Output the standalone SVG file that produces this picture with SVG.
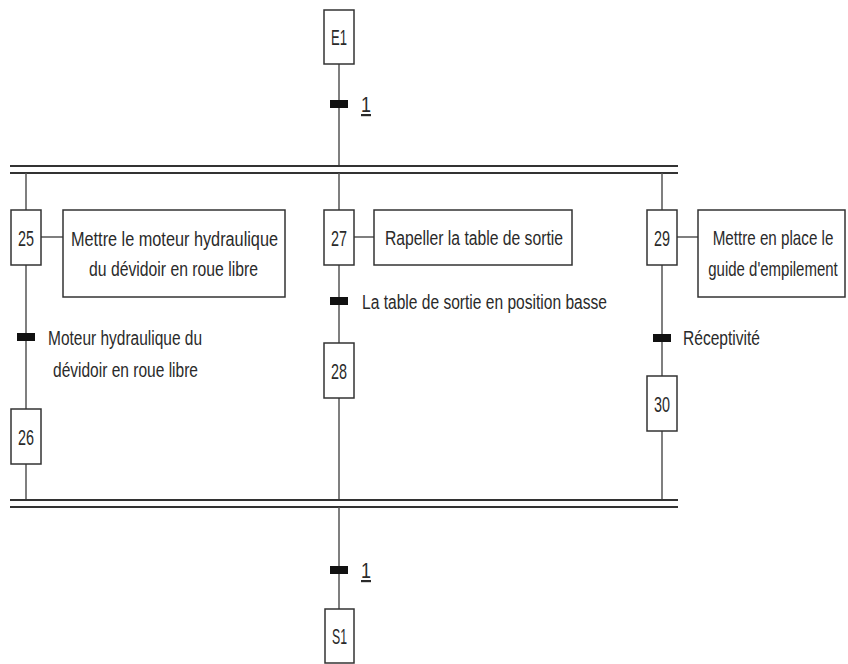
<svg xmlns="http://www.w3.org/2000/svg" width="848" height="664" viewBox="0 0 848 664">
<style>
.ln{stroke:#555;stroke-width:1.5;fill:none}
.bar{stroke:#333;stroke-width:2;fill:none}
.box{fill:#fff;stroke:#333;stroke-width:1.5}
.tr{fill:#111}
.t{font-family:"Liberation Sans",Arial,sans-serif;font-size:20px;fill:#2a2a2a}
.n{font-family:"Liberation Sans",Arial,sans-serif;font-size:22px;fill:#2a2a2a}
</style>
<rect width="848" height="664" fill="#fff"/>
<g id="connectors">
<line class="ln" x1="339" y1="64" x2="339" y2="167"/>
<line class="bar" x1="10" y1="166" x2="678" y2="166"/>
<line class="bar" x1="10" y1="173" x2="678" y2="173"/>
<line class="ln" x1="26" y1="173" x2="26" y2="210"/>
<line class="ln" x1="339" y1="173" x2="339" y2="210"/>
<line class="ln" x1="662" y1="173" x2="662" y2="210"/>
<line class="ln" x1="26" y1="265" x2="26" y2="409"/>
<line class="ln" x1="26" y1="464" x2="26" y2="500"/>
<line class="ln" x1="339" y1="265" x2="339" y2="343"/>
<line class="ln" x1="339" y1="398" x2="339" y2="500"/>
<line class="ln" x1="662" y1="265" x2="662" y2="376"/>
<line class="ln" x1="662" y1="431" x2="662" y2="500"/>
<line class="bar" x1="10" y1="500" x2="678" y2="500"/>
<line class="bar" x1="10" y1="507" x2="678" y2="507"/>
<line class="ln" x1="339" y1="507" x2="339" y2="609"/>
<line class="ln" x1="41" y1="237" x2="63" y2="237"/>
<line class="ln" x1="354" y1="237" x2="374" y2="237"/>
<line class="ln" x1="677" y1="237" x2="698" y2="237"/>
</g>
<g id="E1"><rect class="box" x="324" y="10" width="30" height="54"/><text class="n" x="331" y="45" textLength="16" lengthAdjust="spacingAndGlyphs">E1</text></g>
<g id="T1"><rect class="tr" x="330" y="100" width="18" height="8"/><text class="n" x="361" y="112" textLength="10" lengthAdjust="spacingAndGlyphs" text-decoration="underline">1</text></g>
<g id="S25"><rect class="box" x="11" y="210" width="30" height="55"/><text class="n" x="18" y="246" textLength="16" lengthAdjust="spacingAndGlyphs">25</text></g>
<g id="A25"><rect class="box" x="63" y="210" width="222" height="87"/><text class="t" x="71" y="246" textLength="207" lengthAdjust="spacingAndGlyphs">Mettre le moteur hydraulique</text><text class="t" x="89" y="276" textLength="169" lengthAdjust="spacingAndGlyphs">du dévidoir en roue libre</text></g>
<g id="T25"><rect class="tr" x="17" y="333" width="18" height="8"/><text class="t" x="48" y="345" textLength="154" lengthAdjust="spacingAndGlyphs">Moteur hydraulique du</text><text class="t" x="53" y="377" textLength="145" lengthAdjust="spacingAndGlyphs">dévidoir en roue libre</text></g>
<g id="S26"><rect class="box" x="11" y="409" width="30" height="55"/><text class="n" x="18" y="445" textLength="16" lengthAdjust="spacingAndGlyphs">26</text></g>
<g id="S27"><rect class="box" x="324" y="210" width="30" height="55"/><text class="n" x="331" y="246" textLength="16" lengthAdjust="spacingAndGlyphs">27</text></g>
<g id="A27"><rect class="box" x="374" y="210" width="198" height="55"/><text class="t" x="385" y="245" textLength="178" lengthAdjust="spacingAndGlyphs">Rapeller la table de sortie</text></g>
<g id="T27"><rect class="tr" x="330" y="297" width="18" height="8"/><text class="t" x="362" y="309" textLength="245" lengthAdjust="spacingAndGlyphs">La table de sortie en position basse</text></g>
<g id="S28"><rect class="box" x="324" y="343" width="30" height="55"/><text class="n" x="331" y="379" textLength="16" lengthAdjust="spacingAndGlyphs">28</text></g>
<g id="S29"><rect class="box" x="647" y="210" width="30" height="55"/><text class="n" x="654" y="246" textLength="16" lengthAdjust="spacingAndGlyphs">29</text></g>
<g id="A29"><rect class="box" x="698" y="210" width="147" height="87"/><text class="t" text-anchor="middle" transform="translate(773 245) scale(0.76 1)">Mettre en place le</text><text class="t" text-anchor="middle" transform="translate(773 276) scale(0.75 1)">guide d'empilement</text></g>
<g id="T29"><rect class="tr" x="653" y="334" width="18" height="8"/><text class="t" x="683" y="345" textLength="77" lengthAdjust="spacingAndGlyphs">Réceptivité</text></g>
<g id="S30"><rect class="box" x="647" y="376" width="30" height="55"/><text class="n" x="654" y="412" textLength="16" lengthAdjust="spacingAndGlyphs">30</text></g>
<g id="T2"><rect class="tr" x="330" y="566" width="18" height="8"/><text class="n" x="361" y="578" textLength="10" lengthAdjust="spacingAndGlyphs" text-decoration="underline">1</text></g>
<g id="S1"><rect class="box" x="325" y="609" width="29" height="54"/><text class="n" x="332" y="644" textLength="15" lengthAdjust="spacingAndGlyphs">S1</text></g>
</svg>
